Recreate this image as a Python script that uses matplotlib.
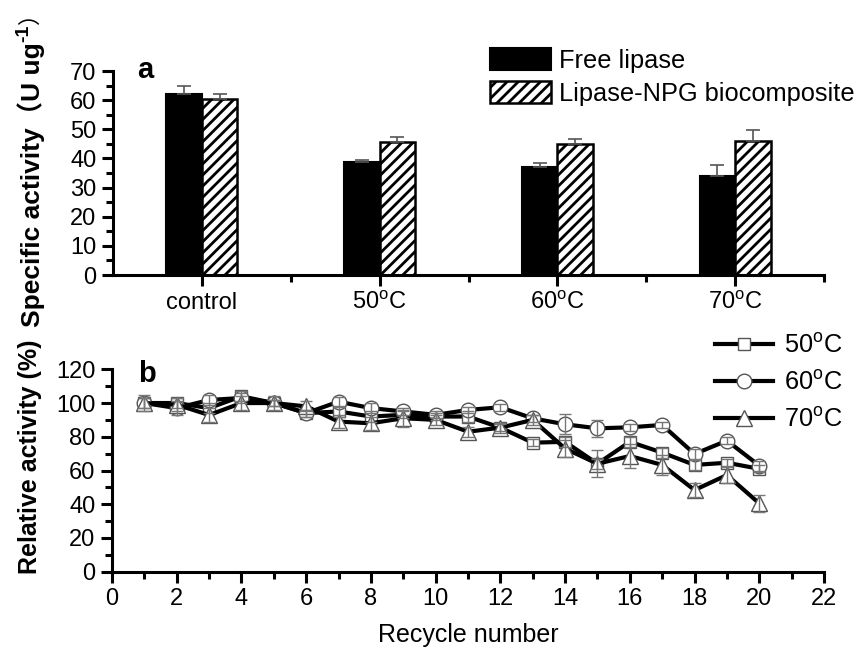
import matplotlib
matplotlib.use("Agg")
import matplotlib.pyplot as plt
import numpy as np

plt.rcParams['font.family'] = ['Liberation Sans', 'DejaVu Sans']
plt.rcParams['mathtext.fontset'] = 'custom'
plt.rcParams['mathtext.rm'] = 'Liberation Sans'
plt.rcParams['mathtext.it'] = 'Liberation Sans:italic'
plt.rcParams['mathtext.bf'] = 'Liberation Sans:bold'
plt.rcParams['hatch.linewidth'] = 2.0

# ---- panel a data ----
categories = ["control", "50$^{\\mathregular{o}}$C", "60$^{\\mathregular{o}}$C", "70$^{\\mathregular{o}}$C"]
free_lipase = [62.2, 38.8, 37.0, 34.1]
free_err = [2.8, 0.7, 1.6, 3.5]
npg_lipase = [60.5, 45.5, 45.0, 46.0]
npg_err = [1.6, 1.9, 1.7, 3.7]

# ---- panel b data ----
cycles = list(range(1, 21))
act_50 = [100, 100, 97, 104, 100, 94, 95, 92, 93, 92, 92, 85.4, 76.5, 77, 64, 77, 70.6, 63.3, 64.6, 61]
err_50 = [3, 3, 3, 3, 2, 2, 3, 3, 2, 2, 3, 2, 2, 3, 3, 3, 3, 3, 2, 2]
act_60 = [100, 97, 101.8, 103, 100, 94, 100.8, 97, 95, 93, 95.9, 97.5, 90.9, 87.4, 85, 85.6, 87, 69.8, 77.7, 62.9]
err_60 = [3, 4, 3, 3, 2, 2, 3, 3, 2, 2, 2, 2, 2, 6, 5, 2, 2, 3, 2, 3]
act_70 = [100, 99, 92.9, 100, 100, 98, 89, 88, 91, 90, 83, 85.4, 90, 73, 64, 68.6, 63.3, 48.4, 57.3, 40.5]
err_70 = [5, 4, 4, 4, 4, 3, 4, 4, 5, 3, 3, 3, 3, 5, 8, 7, 6, 4, 5, 5]
legend_b = ["50$^{\\mathregular{o}}$C", "60$^{\\mathregular{o}}$C", "70$^{\\mathregular{o}}$C"]

W, H = 861, 650
fig = plt.figure(figsize=(W / 100, H / 100), dpi=100)
TICK_FS = 17
LAB_FS = 18
LEG_FS = 18.3

def style_axes(ax):
    for s in ['top', 'right']:
        ax.spines[s].set_visible(False)
    for s in ['left', 'bottom']:
        ax.spines[s].set_linewidth(2.2)
    ax.tick_params(which='major', direction='out', length=8, width=2.2, labelsize=TICK_FS, pad=4)
    ax.tick_params(which='minor', direction='out', length=5, width=2.2)

# ---- top panel ----
ax1 = fig.add_axes([113 / W, 1 - 275 / H, 711 / W, 204 / H])
x = np.arange(1, len(categories) + 1)
w = 0.2
zeros = [0] * len(categories)
ax1.bar(x - w / 2, free_lipase, width=w, color='black', edgecolor='black', linewidth=1.5,
        yerr=[zeros, free_err], error_kw=dict(ecolor='#555555', elinewidth=1.2, capsize=5, capthick=1.2),
        label='Free lipase', zorder=2)
ax1.bar(x + w / 2, npg_lipase, width=w, color='white', edgecolor='black', linewidth=1.8,
        hatch='///', yerr=[zeros, npg_err], error_kw=dict(ecolor='#555555', elinewidth=1.2, capsize=5, capthick=1.2),
        label='Lipase-NPG biocomposite', zorder=2)
ax1.set_xlim(0.5, 4.5)
ax1.set_ylim(0, 70)
ax1.set_xticks(x)
ax1.set_xticklabels(categories)
ax1.set_xticks([1.5, 2.5, 3.5, 4.5], minor=True)
ax1.set_yticks(np.arange(0, 71, 10))
ax1.set_yticks(np.arange(5, 70, 10), minor=True)
style_axes(ax1)
ax1.text(0.034, 0.966, 'a', transform=ax1.transAxes, fontsize=21, fontweight='bold', va='baseline')
leg1 = ax1.legend(loc='upper left', bbox_to_anchor=((490 - 113) / 711, (275 - 48) / 204), frameon=False,
                  fontsize=LEG_FS, handlelength=2.4, handleheight=0.95, handletextpad=0.3,
                  labelspacing=0.32, borderaxespad=0, borderpad=0)

# ---- bottom panel ----
ax2 = fig.add_axes([112 / W, 1 - 571.7 / H, 712 / W, 202.4 / H])
mk = dict(markerfacecolor='white', markeredgecolor='#555555', markeredgewidth=1.0)
eb = dict(ecolor='#777777', elinewidth=1, capsize=4, capthick=1)
series = [(act_50, err_50, 's', 9), (act_60, err_60, 'o', 10.5), (act_70, err_70, '^', 12)]
handles = []
for i, (vals, errs, m, ms) in enumerate(series):
    h, = ax2.plot(cycles, vals, color='black', linewidth=3, marker=m, markersize=ms, zorder=2 + i, **mk)
    ax2.errorbar(cycles, vals, yerr=errs, fmt='none', zorder=5, **eb)
    handles.append(h)
ax2.set_xlim(0, 22)
ax2.set_ylim(0, 120)
ax2.set_xticks(np.arange(0, 23, 2))
ax2.set_xticks(np.arange(1, 22, 2), minor=True)
ax2.set_yticks(np.arange(0, 121, 20))
ax2.set_yticks(np.arange(10, 120, 20), minor=True)
style_axes(ax2)
ax2.set_xlabel("Recycle number", fontsize=LAB_FS, labelpad=9)
ax2.text(0.037, 0.937, 'b', transform=ax2.transAxes, fontsize=21, fontweight='bold', va='baseline')
ax2.legend(handles, legend_b, loc='upper left', bbox_to_anchor=((715 - 112) / 712, (571.7 - 334) / 202.4),
           frameon=False, fontsize=LEG_FS, handlelength=2.3, handletextpad=0.4, labelspacing=0.5,
           borderaxespad=0, borderpad=0)

# ---- y labels (drawn as figure text) ----
fig.text(30 / W, 1 - 457 / H, "Relative activity (%)", rotation=90, fontsize=LAB_FS, fontweight='bold',
         ha='center', va='center')

fam = ['Liberation Sans', 'Noto Sans CJK SC', 'DejaVu Sans']
TOP_FS = 19
main = fig.text(31 / W, 1 - 327 / H, "Specific activity（U ug", rotation=90, fontsize=TOP_FS,
                fontweight='bold', family=fam, ha='center', va='bottom')
fig.canvas.draw()
r = fig.canvas.get_renderer()
bb = main.get_window_extent(r)
sup = fig.text((bb.x0 + bb.x1) / 2 / W - 7 / W, bb.y1 / H, "-1", rotation=90, fontsize=14,
               fontweight='bold', family=fam, ha='center', va='bottom')
bb2 = sup.get_window_extent(r)
close = fig.text((bb.x0 + bb.x1) / 2 / W, (bb2.y1 + 0.5) / H, "）", rotation=90, fontsize=16,
                 family=fam, ha='center', va='bottom')

fig.savefig('out.png', dpi=100)
